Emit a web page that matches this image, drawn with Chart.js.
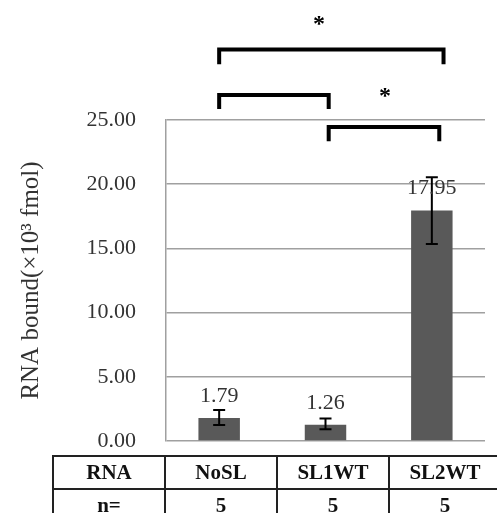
<!DOCTYPE html>
<html>
<head>
<meta charset="utf-8">
<script src="https://cdn.jsdelivr.net/npm/chart.js@4.4.0/dist/chart.umd.min.js"></script>
<style>
  html, body { margin: 0; padding: 0; background: #fff; }
  #wrap { position: relative; width: 497px; height: 513px; overflow: hidden; }
  #chart { position: absolute; left: 0; top: 0; }
  #counts {
    position: absolute; left: 52px; top: 455px; width: 450px;
    border-collapse: collapse; table-layout: fixed;
    font-family: "Liberation Serif", "Times New Roman", serif;
    font-weight: bold; font-size: 21px; color: #111;
  }
  #counts td { border: 2px solid #222; text-align: center; padding: 0; height: 31px; }
</style>
</head>
<body>
<div id="wrap">
  <canvas id="chart" width="497" height="513"></canvas>
  <table id="counts">
    <tr id="row-names"></tr>
    <tr id="row-n"></tr>
  </table>
</div>
<script>
// sample groups and measured RNA binding
const categories = ['NoSL', 'SL1WT', 'SL2WT'];
const values = [1.79, 1.26, 17.95];
const errUp = [0.62, 0.5, 2.6];
const errDown = [0.55, 0.35, 2.6];
const sampleSizes = [5, 5, 5];
const yTicks = [0, 5, 10, 15, 20, 25];

// significance brackets: category positions and heights in axis units
const brackets = [
  { from: 0, to: 2.11, y: 30.5, drop: 1.15 },
  { from: 0, to: 1.03, y: 26.95, drop: 1.1 },
  { from: 1.03, to: 2.07, y: 24.45, drop: 1.1 }
];
const stars = [
  { x: 0.94, y: 32.8 },
  { x: 1.56, y: 27.2 }
];

const serif = '"Liberation Serif", "Times New Roman", serif';

// table under the plot
const rowNames = document.getElementById('row-names');
const rowN = document.getElementById('row-n');
rowNames.innerHTML = '<td>RNA</td>' + categories.map(c => `<td>${c}</td>`).join('');
rowN.innerHTML = '<td>n=</td>' + sampleSizes.map(n => `<td>${n}</td>`).join('');

const errorBars = {
  id: 'errorBars',
  afterDatasetsDraw(chart) {
    const ctx = chart.ctx;
    const meta = chart.getDatasetMeta(0);
    const y = chart.scales.y;
    ctx.save();
    ctx.strokeStyle = '#000';
    ctx.lineWidth = 2;
    meta.data.forEach((bar, i) => {
      const top = y.getPixelForValue(values[i] + errUp[i]);
      const bot = y.getPixelForValue(values[i] - errDown[i]);
      ctx.beginPath();
      ctx.moveTo(bar.x, top); ctx.lineTo(bar.x, bot);
      ctx.moveTo(bar.x - 6, top); ctx.lineTo(bar.x + 6, top);
      ctx.moveTo(bar.x - 6, bot); ctx.lineTo(bar.x + 6, bot);
      ctx.stroke();
    });
    ctx.restore();
  }
};

const valueLabels = {
  id: 'valueLabels',
  afterDatasetsDraw(chart) {
    const ctx = chart.ctx;
    const meta = chart.getDatasetMeta(0);
    ctx.save();
    ctx.font = '22px ' + serif;
    ctx.fillStyle = '#333';
    ctx.textAlign = 'center';
    ctx.textBaseline = 'middle';
    meta.data.forEach((bar, i) => {
      ctx.fillText(values[i].toFixed(2), bar.x, bar.y - 22);
    });
    ctx.restore();
  }
};

const sigBrackets = {
  id: 'sigBrackets',
  afterDraw(chart) {
    const ctx = chart.ctx;
    const x = chart.scales.x;
    const y = chart.scales.y;
    ctx.save();
    ctx.strokeStyle = '#000';
    ctx.lineWidth = 4;
    ctx.lineJoin = 'miter';
    brackets.forEach(b => {
      const x1 = x.getPixelForValue(b.from);
      const x2 = x.getPixelForValue(b.to);
      const yTop = y.getPixelForValue(b.y);
      const yBot = y.getPixelForValue(b.y - b.drop);
      ctx.beginPath();
      ctx.moveTo(x1, yBot);
      ctx.lineTo(x1, yTop);
      ctx.lineTo(x2, yTop);
      ctx.lineTo(x2, yBot);
      ctx.stroke();
    });
    ctx.fillStyle = '#000';
    ctx.font = 'bold 24px ' + serif;
    ctx.textAlign = 'center';
    ctx.textBaseline = 'middle';
    stars.forEach(s => {
      ctx.fillText('*', x.getPixelForValue(s.x), y.getPixelForValue(s.y) + 5);
    });
    ctx.restore();
  }
};

new Chart(document.getElementById('chart'), {
  type: 'bar',
  data: {
    labels: categories,
    datasets: [{
      data: values,
      backgroundColor: '#595959',
      borderWidth: 0,
      categoryPercentage: 1,
      barPercentage: 0.39
    }]
  },
  options: {
    responsive: false,
    animation: false,
    events: [],
    layout: { padding: { left: 0, top: 120, right: 12, bottom: 72 } },
    plugins: {
      legend: { display: false },
      tooltip: { enabled: false }
    },
    scales: {
      x: {
        display: false
      },
      y: {
        min: 0,
        max: 25,
        afterBuildTicks(scale) {
          scale.ticks = yTicks.map(v => ({ value: v }));
        },
        afterFit(scale) { scale.width = 166; },
        grid: { color: '#a0a0a0', lineWidth: 1.5, drawTicks: false },
        border: { color: '#a0a0a0', width: 1.5 },
        ticks: {
          padding: 30,
          color: '#333',
          font: { family: serif, size: 22 },
          callback: v => v.toFixed(2)
        },
        title: {
          display: true,
          text: 'RNA bound(×10³ fmol)',
          color: '#333',
          font: { family: serif, size: 25 },
          padding: { top: 16, bottom: 0 }
        }
      }
    }
  },
  plugins: [errorBars, valueLabels, sigBrackets]
});
</script>
</body>
</html>
